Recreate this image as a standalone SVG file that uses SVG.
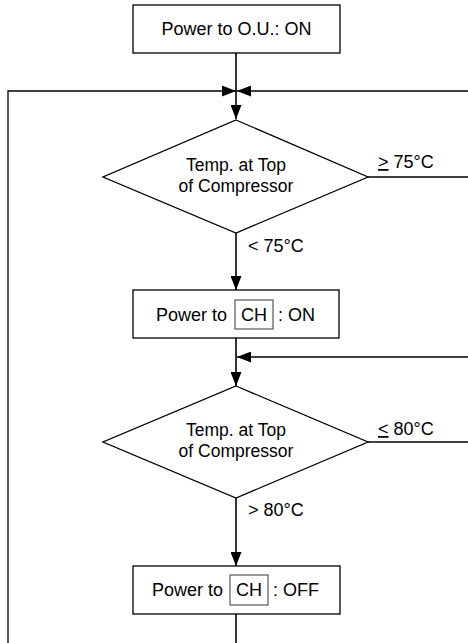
<svg xmlns="http://www.w3.org/2000/svg" width="468" height="643" viewBox="0 0 468 643">
<style>
.box{fill:#fff;stroke:#000;stroke-width:1.3}
.dia{fill:#fff;stroke:#000;stroke-width:1.3}
.inner{fill:none;stroke:#555;stroke-width:1.2}
.t{font-family:"Liberation Sans",Arial,sans-serif;font-size:18px;fill:#000}
.td{font-family:"Liberation Sans",Arial,sans-serif;font-size:17.5px;fill:#000}
.main{fill:none;stroke:#333;stroke-width:2}
.fb{fill:none;stroke:#000;stroke-width:1.3}
</style>
<defs>
<marker id="ah" markerUnits="userSpaceOnUse" markerWidth="14" markerHeight="11" refX="14" refY="5.5" orient="auto">
<path d="M0,0 L14,5.5 L0,11 Z" fill="#000"/>
</marker>
</defs>
<rect width="468" height="643" fill="#fff"/>
<g id="connectors">
<path class="main" d="M236,53 V119" marker-end="url(#ah)"/>
<path class="fb" d="M8,643 V91 H236" marker-end="url(#ah)"/>
<path class="fb" d="M468,91 H237" marker-end="url(#ah)"/>
<path class="fb" d="M368,177 H468"/>
<path class="main" d="M236,233 V290" marker-end="url(#ah)"/>
<path class="main" d="M236,338 V386" marker-end="url(#ah)"/>
<path class="fb" d="M468,357 H237" marker-end="url(#ah)"/>
<path class="fb" d="M368,442 H468"/>
<path class="main" d="M236,498 V566" marker-end="url(#ah)"/>
<path class="main" d="M236,614 V643"/>
<text class="t" x="378" y="168"><tspan text-decoration="underline">&gt;</tspan> 75°C</text>
<text class="t" x="248" y="252">&lt; 75°C</text>
<text class="t" x="378" y="435"><tspan text-decoration="underline">&lt;</tspan> 80°C</text>
<text class="t" x="248" y="516">&gt; 80°C</text>
</g>
<g id="start">
<rect class="box" x="133" y="5" width="207" height="48"/>
<text class="t" x="236.5" y="35" text-anchor="middle">Power to O.U.: ON</text>
</g>
<g id="decision1">
<polygon class="dia" points="236,120 368,177 236,233 103,177"/>
<text class="td" x="236" y="171" text-anchor="middle">Temp. at Top</text>
<text class="td" x="236" y="192" text-anchor="middle">of Compressor</text>
</g>
<g id="ch-on">
<rect class="box" x="133" y="290" width="206" height="48"/>
<text class="t" x="156" y="321">Power to</text>
<rect class="inner" x="235" y="300" width="38" height="29"/>
<text class="t" x="254" y="321" text-anchor="middle">CH</text>
<text class="t" x="278" y="321">: ON</text>
</g>
<g id="decision2">
<polygon class="dia" points="236,386 368,442 236,498 103,442"/>
<text class="td" x="236" y="436" text-anchor="middle">Temp. at Top</text>
<text class="td" x="236" y="457" text-anchor="middle">of Compressor</text>
</g>
<g id="ch-off">
<rect class="box" x="133" y="566" width="207" height="48"/>
<text class="t" x="152" y="596">Power to</text>
<rect class="inner" x="230" y="575" width="38" height="30"/>
<text class="t" x="249" y="596" text-anchor="middle">CH</text>
<text class="t" x="273" y="596">: OFF</text>
</g>
</svg>
